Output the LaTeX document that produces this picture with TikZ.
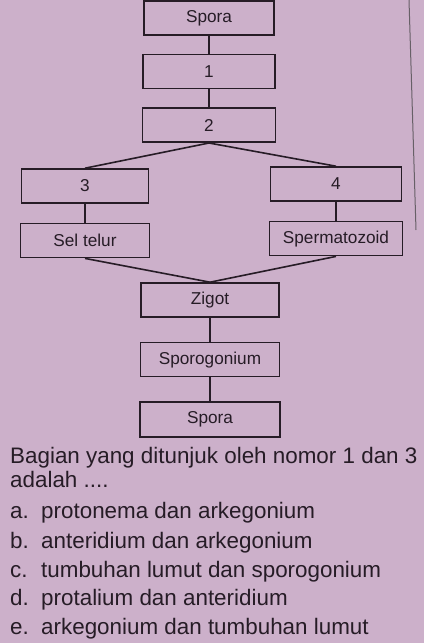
\documentclass[tikz,border=0pt]{standalone}
\usepackage{fontspec}
\setmainfont{Liberation Sans}
\usetikzlibrary{positioning}
\definecolor{paper}{RGB}{204,176,202}
\definecolor{ink}{RGB}{38,28,38}
\tikzset{
  stage/.style={draw=ink, line width=1.6pt, minimum height=34pt, inner sep=0pt,
    text=ink, font=\fontsize{17.2}{19}\selectfont},
  link/.style={draw=ink, line width=1.6pt},
  qtext/.style={anchor=base west, inner sep=0pt, text=ink, font=\fontsize{22.4}{25}\selectfont}
}
\begin{document}
\begin{tikzpicture}[x=1pt,y=1pt]
            \fill[paper] (0,0) rectangle (424,-643);
            \useasboundingbox (0,0) rectangle (424,-643);
            % page edge
            \draw[ink!70, line width=1pt] (409,0) -- (416,-230);
            \node[stage, minimum width=130pt] (spora) at (209,-18) {Spora};
            \node[stage, minimum width=132pt, below=18pt of spora] (one) {1};
            \node[stage, minimum width=133pt, below=18pt of one] (two) {2};
            \node[stage, minimum width=127pt] (three) at (85,-186) {3};
            \node[stage, minimum width=131pt] (four) at (336,-184) {4};
            \node[stage, minimum width=129pt, below=19pt of three] (egg) {Sel telur};
            \node[stage, minimum width=133pt, below=19pt of four] (sperm) {Spermatozoid};
            \node[stage, minimum width=138pt] (zygote) at (210,-300) {Zigot};
            \node[stage, minimum width=139pt, below=24pt of zygote] (sporog) {Sporogonium};
            \node[stage, minimum width=140pt, minimum height=35pt, below=24pt of sporog] (sporb) {Spora};
            \draw[link] (spora) -- (one);
            \draw[link] (one) -- (two);
            \draw[link] (two.south) -- (three.north);
            \draw[link] (two.south) -- (four.north);
            \draw[link] (three) -- (egg);
            \draw[link] (four) -- (sperm);
            \draw[link] (egg.south) -- (zygote.north);
            \draw[link] (sperm.south) -- (zygote.north);
            \draw[link] (zygote) -- (sporog);
            \draw[link] (sporog) -- (sporb);
            % question
            \node[qtext] (q1) at (10,-463) {Bagian yang ditunjuk oleh nomor 1 dan 3};
            \node[qtext] (q2) at (10,-487) {adalah ....};
            \node[qtext] (oa) at (10,-518) {a.};
            \node[qtext] (ta) at (41,-518) {protonema dan arkegonium};
            \node[qtext] (ob) at (10,-548) {b.};
            \node[qtext] (tb) at (41,-548) {anteridium dan arkegonium};
            \node[qtext] (oc) at (10,-577) {c.};
            \node[qtext] (tc) at (41,-577) {tumbuhan lumut dan sporogonium};
            \node[qtext] (od) at (10,-605) {d.};
            \node[qtext] (td) at (41,-605) {protalium dan anteridium};
            \node[qtext] (oe) at (10,-634) {e.};
            \node[qtext] (te) at (41,-634) {arkegonium dan tumbuhan lumut};
\end{tikzpicture}
\end{document}
